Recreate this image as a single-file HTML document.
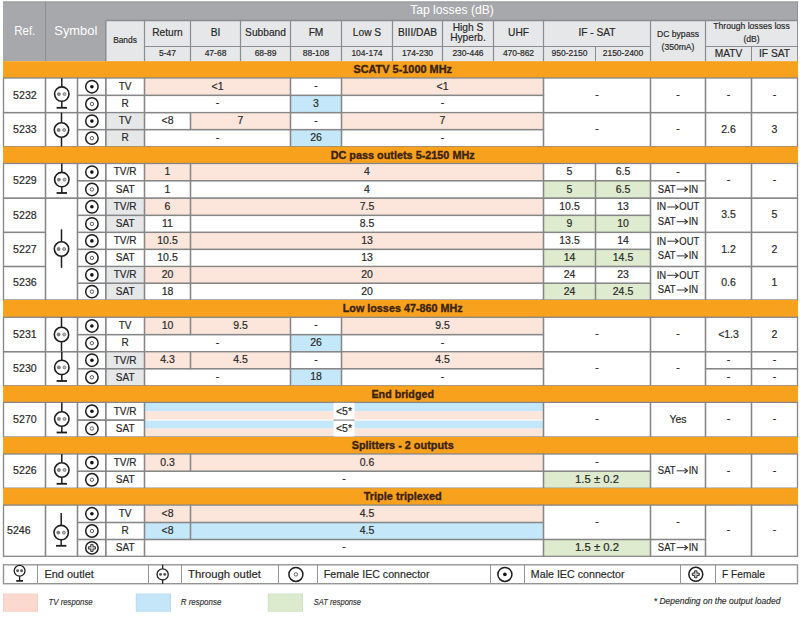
<!DOCTYPE html>
<html><head><meta charset="utf-8"><title>Tap losses</title>
<style>
html,body{margin:0;padding:0;background:#fff;width:800px;height:617px;overflow:hidden}
svg{display:block;font-family:"Liberation Sans", sans-serif}
</style></head><body>
<svg width="800" height="617" viewBox="0 0 800 617">
<rect x="0" y="0" width="800" height="617" fill="#fff"/>
<rect x="3.00" y="1.50" width="795.00" height="59.70" fill="#a6a8ab" />
<rect x="105.80" y="20.50" width="692.20" height="40.70" fill="#e6e7e8" />
<line x1="3.00" y1="2.00" x2="798.00" y2="2.00" stroke="#97999c" stroke-width="1.0"/>
<line x1="105.80" y1="20.50" x2="798.00" y2="20.50" stroke="#898b8e" stroke-width="1.6"/>
<line x1="45.50" y1="1.50" x2="45.50" y2="61.20" stroke="#8e9093" stroke-width="1.0"/>
<line x1="797.50" y1="1.50" x2="797.50" y2="61.20" stroke="#8e9093" stroke-width="1.0"/>
<line x1="105.80" y1="20.50" x2="105.80" y2="61.20" stroke="#8a8c8f" stroke-width="1.5"/>
<line x1="144.50" y1="20.50" x2="144.50" y2="61.20" stroke="#8a8c8f" stroke-width="1.2"/>
<line x1="190.50" y1="20.50" x2="190.50" y2="61.20" stroke="#8a8c8f" stroke-width="1.2"/>
<line x1="240.50" y1="20.50" x2="240.50" y2="61.20" stroke="#8a8c8f" stroke-width="1.2"/>
<line x1="290.50" y1="20.50" x2="290.50" y2="61.20" stroke="#8a8c8f" stroke-width="1.2"/>
<line x1="341.50" y1="20.50" x2="341.50" y2="61.20" stroke="#8a8c8f" stroke-width="1.2"/>
<line x1="392.50" y1="20.50" x2="392.50" y2="61.20" stroke="#8a8c8f" stroke-width="1.2"/>
<line x1="442.50" y1="20.50" x2="442.50" y2="61.20" stroke="#8a8c8f" stroke-width="1.2"/>
<line x1="493.50" y1="20.50" x2="493.50" y2="61.20" stroke="#8a8c8f" stroke-width="1.2"/>
<line x1="543.50" y1="20.50" x2="543.50" y2="61.20" stroke="#8a8c8f" stroke-width="1.2"/>
<line x1="650.50" y1="20.50" x2="650.50" y2="61.20" stroke="#8a8c8f" stroke-width="1.2"/>
<line x1="705.50" y1="20.50" x2="705.50" y2="61.20" stroke="#8a8c8f" stroke-width="1.2"/>
<line x1="595.50" y1="46.50" x2="595.50" y2="61.20" stroke="#8a8c8f" stroke-width="1.0"/>
<line x1="751.50" y1="46.50" x2="751.50" y2="61.20" stroke="#8a8c8f" stroke-width="1.0"/>
<line x1="144.50" y1="46.50" x2="650.50" y2="46.50" stroke="#8a8c8f" stroke-width="1.0"/>
<line x1="705.50" y1="46.50" x2="797.50" y2="46.50" stroke="#8a8c8f" stroke-width="1.0"/>
<text x="24.80" y="35.00" font-size="13.0" text-anchor="middle" fill="#ffffff" font-weight="normal" font-style="normal" textLength="21" lengthAdjust="spacingAndGlyphs" >Ref.</text>
<text x="75.80" y="35.00" font-size="13.0" text-anchor="middle" fill="#ffffff" font-weight="normal" font-style="normal" textLength="43" lengthAdjust="spacingAndGlyphs" >Symbol</text>
<text x="452.00" y="13.80" font-size="12.15" text-anchor="middle" fill="#ffffff" font-weight="normal" font-style="normal" >Tap losses (dB)</text>
<text x="125.00" y="43.40" font-size="8.4" text-anchor="middle" fill="#282828" font-weight="normal" font-style="normal" stroke="#282828" stroke-width="0.18">Bands</text>
<text x="167.50" y="36.20" font-size="10.2" text-anchor="middle" fill="#282828" font-weight="normal" font-style="normal" stroke="#282828" stroke-width="0.18">Return</text>
<text x="167.50" y="56.00" font-size="8.5" text-anchor="middle" fill="#282828" font-weight="normal" font-style="normal" stroke="#282828" stroke-width="0.18">5-47</text>
<text x="215.50" y="36.20" font-size="10.2" text-anchor="middle" fill="#282828" font-weight="normal" font-style="normal" stroke="#282828" stroke-width="0.18">BI</text>
<text x="215.50" y="56.00" font-size="8.5" text-anchor="middle" fill="#282828" font-weight="normal" font-style="normal" stroke="#282828" stroke-width="0.18">47-68</text>
<text x="265.50" y="36.20" font-size="10.2" text-anchor="middle" fill="#282828" font-weight="normal" font-style="normal" stroke="#282828" stroke-width="0.18">Subband</text>
<text x="265.50" y="56.00" font-size="8.5" text-anchor="middle" fill="#282828" font-weight="normal" font-style="normal" stroke="#282828" stroke-width="0.18">68-89</text>
<text x="316.00" y="36.20" font-size="10.2" text-anchor="middle" fill="#282828" font-weight="normal" font-style="normal" stroke="#282828" stroke-width="0.18">FM</text>
<text x="316.00" y="56.00" font-size="8.5" text-anchor="middle" fill="#282828" font-weight="normal" font-style="normal" stroke="#282828" stroke-width="0.18">88-108</text>
<text x="367.00" y="36.20" font-size="10.2" text-anchor="middle" fill="#282828" font-weight="normal" font-style="normal" stroke="#282828" stroke-width="0.18">Low S</text>
<text x="367.00" y="56.00" font-size="8.5" text-anchor="middle" fill="#282828" font-weight="normal" font-style="normal" stroke="#282828" stroke-width="0.18">104-174</text>
<text x="417.50" y="36.20" font-size="10.2" text-anchor="middle" fill="#282828" font-weight="normal" font-style="normal" stroke="#282828" stroke-width="0.18">BIII/DAB</text>
<text x="417.50" y="56.00" font-size="8.5" text-anchor="middle" fill="#282828" font-weight="normal" font-style="normal" stroke="#282828" stroke-width="0.18">174-230</text>
<text x="468.00" y="56.00" font-size="8.5" text-anchor="middle" fill="#282828" font-weight="normal" font-style="normal" stroke="#282828" stroke-width="0.18">230-446</text>
<text x="518.50" y="36.20" font-size="10.2" text-anchor="middle" fill="#282828" font-weight="normal" font-style="normal" stroke="#282828" stroke-width="0.18">UHF</text>
<text x="518.50" y="56.00" font-size="8.5" text-anchor="middle" fill="#282828" font-weight="normal" font-style="normal" stroke="#282828" stroke-width="0.18">470-862</text>
<text x="468.00" y="30.50" font-size="10.2" text-anchor="middle" fill="#282828" font-weight="normal" font-style="normal" stroke="#282828" stroke-width="0.18">High S</text>
<text x="468.00" y="41.20" font-size="10.2" text-anchor="middle" fill="#282828" font-weight="normal" font-style="normal" stroke="#282828" stroke-width="0.18">Hyperb.</text>
<text x="597.00" y="36.20" font-size="10.2" text-anchor="middle" fill="#282828" font-weight="normal" font-style="normal" stroke="#282828" stroke-width="0.18">IF - SAT</text>
<text x="569.50" y="56.00" font-size="8.5" text-anchor="middle" fill="#282828" font-weight="normal" font-style="normal" stroke="#282828" stroke-width="0.18">950-2150</text>
<text x="623.00" y="56.00" font-size="8.5" text-anchor="middle" fill="#282828" font-weight="normal" font-style="normal" stroke="#282828" stroke-width="0.18">2150-2400</text>
<text x="678.00" y="36.60" font-size="8.6" text-anchor="middle" fill="#282828" font-weight="normal" font-style="normal" stroke="#282828" stroke-width="0.18">DC bypass</text>
<text x="678.00" y="49.60" font-size="8.6" text-anchor="middle" fill="#282828" font-weight="normal" font-style="normal" stroke="#282828" stroke-width="0.18">(350mA)</text>
<text x="751.50" y="29.20" font-size="8.6" text-anchor="middle" fill="#282828" font-weight="normal" font-style="normal" stroke="#282828" stroke-width="0.18">Through losses loss</text>
<text x="751.50" y="41.50" font-size="8.6" text-anchor="middle" fill="#282828" font-weight="normal" font-style="normal" stroke="#282828" stroke-width="0.18">(dB)</text>
<text x="728.50" y="57.00" font-size="10.2" text-anchor="middle" fill="#282828" font-weight="normal" font-style="normal" stroke="#282828" stroke-width="0.18">MATV</text>
<text x="774.50" y="57.00" font-size="10.2" text-anchor="middle" fill="#282828" font-weight="normal" font-style="normal" stroke="#282828" stroke-width="0.18">IF SAT</text>
<rect x="3.00" y="61.20" width="795.00" height="16.80" fill="#f7a11d" />
<text x="402.70" y="73.40" font-size="10.85" text-anchor="middle" fill="#3d230a" font-weight="bold" font-style="normal" textLength="98.6" lengthAdjust="spacingAndGlyphs" stroke="#3d230a" stroke-width="0.35">SCATV 5-1000 MHz</text>
<rect x="145.00" y="78.50" width="145.00" height="16.40" fill="#fce5da" />
<text x="217.50" y="89.80" font-size="10.5" text-anchor="middle" fill="#282828" font-weight="normal" font-style="normal" stroke="#282828" stroke-width="0.18">&lt;1</text>
<text x="316.00" y="89.10" font-size="10.5" text-anchor="middle" fill="#282828" font-weight="normal" font-style="normal" stroke="#282828" stroke-width="0.18">-</text>
<rect x="342.00" y="78.50" width="201.00" height="16.40" fill="#fce5da" />
<text x="442.50" y="89.80" font-size="10.5" text-anchor="middle" fill="#282828" font-weight="normal" font-style="normal" stroke="#282828" stroke-width="0.18">&lt;1</text>
<text x="217.50" y="106.40" font-size="10.5" text-anchor="middle" fill="#282828" font-weight="normal" font-style="normal" stroke="#282828" stroke-width="0.18">-</text>
<rect x="291.00" y="95.90" width="50.00" height="16.20" fill="#c4e8fa" />
<text x="316.00" y="107.10" font-size="10.5" text-anchor="middle" fill="#282828" font-weight="normal" font-style="normal" stroke="#282828" stroke-width="0.18">3</text>
<text x="442.50" y="106.40" font-size="10.5" text-anchor="middle" fill="#282828" font-weight="normal" font-style="normal" stroke="#282828" stroke-width="0.18">-</text>
<text x="597.00" y="97.70" font-size="10.5" text-anchor="middle" fill="#282828" font-weight="normal" font-style="normal" stroke="#282828" stroke-width="0.18">-</text>
<text x="678.00" y="97.70" font-size="10.5" text-anchor="middle" fill="#282828" font-weight="normal" font-style="normal" stroke="#282828" stroke-width="0.18">-</text>
<text x="728.50" y="97.70" font-size="10.5" text-anchor="middle" fill="#282828" font-weight="normal" font-style="normal" stroke="#282828" stroke-width="0.18">-</text>
<text x="774.50" y="97.70" font-size="10.5" text-anchor="middle" fill="#282828" font-weight="normal" font-style="normal" stroke="#282828" stroke-width="0.18">-</text>
<text x="125.15" y="90.00" font-size="10.0" text-anchor="middle" fill="#282828" font-weight="normal" font-style="normal" stroke="#282828" stroke-width="0.18">TV</text>
<text x="125.15" y="107.30" font-size="10.0" text-anchor="middle" fill="#282828" font-weight="normal" font-style="normal" stroke="#282828" stroke-width="0.18">R</text>
<text x="24.90" y="98.50" font-size="10.6" text-anchor="middle" fill="#282828" font-weight="normal" font-style="normal" stroke="#282828" stroke-width="0.18">5232</text>
<rect x="3.50" y="78.00" width="42.00" height="34.60" fill="none" stroke="#878787" stroke-width="1.3"/>
<rect x="77.50" y="78.00" width="28.30" height="17.40" fill="none" stroke="#878787" stroke-width="1.3"/>
<rect x="77.50" y="95.40" width="28.30" height="17.20" fill="none" stroke="#878787" stroke-width="1.3"/>
<rect x="105.80" y="78.00" width="38.70" height="17.40" fill="none" stroke="#878787" stroke-width="1.3"/>
<rect x="105.80" y="95.40" width="38.70" height="17.20" fill="none" stroke="#878787" stroke-width="1.3"/>
<rect x="144.50" y="78.00" width="146.00" height="17.40" fill="none" stroke="#878787" stroke-width="1.3"/>
<rect x="290.50" y="78.00" width="51.00" height="17.40" fill="none" stroke="#878787" stroke-width="1.3"/>
<rect x="341.50" y="78.00" width="202.00" height="17.40" fill="none" stroke="#878787" stroke-width="1.3"/>
<rect x="144.50" y="95.40" width="146.00" height="17.20" fill="none" stroke="#878787" stroke-width="1.3"/>
<rect x="290.50" y="95.40" width="51.00" height="17.20" fill="none" stroke="#878787" stroke-width="1.3"/>
<rect x="341.50" y="95.40" width="202.00" height="17.20" fill="none" stroke="#878787" stroke-width="1.3"/>
<rect x="543.50" y="78.00" width="107.00" height="34.60" fill="none" stroke="#878787" stroke-width="1.3"/>
<rect x="650.50" y="78.00" width="55.00" height="34.60" fill="none" stroke="#878787" stroke-width="1.3"/>
<rect x="705.50" y="78.00" width="46.00" height="34.60" fill="none" stroke="#878787" stroke-width="1.3"/>
<rect x="751.50" y="78.00" width="46.00" height="34.60" fill="none" stroke="#878787" stroke-width="1.3"/>
<rect x="45.50" y="78.00" width="32.00" height="34.60" fill="none" stroke="#878787" stroke-width="1.3"/>
<circle cx="91.9" cy="86.70" r="6.2" fill="none" stroke="#1e1e1e" stroke-width="1.5"/>
<circle cx="91.9" cy="86.70" r="1.8" fill="#111"/>
<circle cx="91.9" cy="104.00" r="6.2" fill="none" stroke="#1e1e1e" stroke-width="1.5"/>
<circle cx="91.9" cy="104.00" r="1.7" fill="none" stroke="#5f5f5f" stroke-width="1.0"/>
<line x1="61.8" y1="78.0" x2="61.8" y2="86.90" stroke="#1e1e1e" stroke-width="1.5"/>
<circle cx="61.8" cy="94.1" r="7.2" fill="#fff" stroke="#1e1e1e" stroke-width="1.6"/>
<line x1="61.8" y1="101.30" x2="61.8" y2="107.8" stroke="#1e1e1e" stroke-width="1.5"/>
<line x1="56.60" y1="107.8" x2="67.00" y2="107.8" stroke="#1e1e1e" stroke-width="1.8"/>
<circle cx="58.90" cy="94.10" r="1.9" fill="#7d7d7d"/>
<circle cx="64.50" cy="94.10" r="1.5" fill="#b8b8b8" stroke="#7d7d7d" stroke-width="0.9"/>
<rect x="106.50" y="113.10" width="37.50" height="16.00" fill="#e6e7e8" />
<rect x="106.50" y="130.10" width="37.50" height="16.10" fill="#e6e7e8" />
<text x="167.50" y="124.20" font-size="10.5" text-anchor="middle" fill="#282828" font-weight="normal" font-style="normal" stroke="#282828" stroke-width="0.18">&lt;8</text>
<rect x="191.00" y="113.10" width="99.00" height="16.00" fill="#fce5da" />
<text x="240.50" y="124.20" font-size="10.5" text-anchor="middle" fill="#282828" font-weight="normal" font-style="normal" stroke="#282828" stroke-width="0.18">7</text>
<text x="316.00" y="123.50" font-size="10.5" text-anchor="middle" fill="#282828" font-weight="normal" font-style="normal" stroke="#282828" stroke-width="0.18">-</text>
<rect x="342.00" y="113.10" width="201.00" height="16.00" fill="#fce5da" />
<text x="442.50" y="124.20" font-size="10.5" text-anchor="middle" fill="#282828" font-weight="normal" font-style="normal" stroke="#282828" stroke-width="0.18">7</text>
<text x="217.50" y="140.55" font-size="10.5" text-anchor="middle" fill="#282828" font-weight="normal" font-style="normal" stroke="#282828" stroke-width="0.18">-</text>
<rect x="291.00" y="130.10" width="50.00" height="16.10" fill="#c4e8fa" />
<text x="316.00" y="141.25" font-size="10.5" text-anchor="middle" fill="#282828" font-weight="normal" font-style="normal" stroke="#282828" stroke-width="0.18">26</text>
<text x="442.50" y="140.55" font-size="10.5" text-anchor="middle" fill="#282828" font-weight="normal" font-style="normal" stroke="#282828" stroke-width="0.18">-</text>
<text x="597.00" y="132.05" font-size="10.5" text-anchor="middle" fill="#282828" font-weight="normal" font-style="normal" stroke="#282828" stroke-width="0.18">-</text>
<text x="678.00" y="132.05" font-size="10.5" text-anchor="middle" fill="#282828" font-weight="normal" font-style="normal" stroke="#282828" stroke-width="0.18">-</text>
<text x="728.50" y="132.75" font-size="10.5" text-anchor="middle" fill="#282828" font-weight="normal" font-style="normal" stroke="#282828" stroke-width="0.18">2.6</text>
<text x="774.50" y="132.75" font-size="10.5" text-anchor="middle" fill="#282828" font-weight="normal" font-style="normal" stroke="#282828" stroke-width="0.18">3</text>
<text x="125.15" y="124.40" font-size="10.0" text-anchor="middle" fill="#282828" font-weight="normal" font-style="normal" stroke="#282828" stroke-width="0.18">TV</text>
<text x="125.15" y="141.45" font-size="10.0" text-anchor="middle" fill="#282828" font-weight="normal" font-style="normal" stroke="#282828" stroke-width="0.18">R</text>
<text x="24.90" y="132.85" font-size="10.6" text-anchor="middle" fill="#282828" font-weight="normal" font-style="normal" stroke="#282828" stroke-width="0.18">5233</text>
<rect x="3.50" y="112.60" width="42.00" height="34.10" fill="none" stroke="#878787" stroke-width="1.3"/>
<rect x="77.50" y="112.60" width="28.30" height="17.00" fill="none" stroke="#878787" stroke-width="1.3"/>
<rect x="77.50" y="129.60" width="28.30" height="17.10" fill="none" stroke="#878787" stroke-width="1.3"/>
<rect x="105.80" y="112.60" width="38.70" height="17.00" fill="none" stroke="#878787" stroke-width="1.3"/>
<rect x="105.80" y="129.60" width="38.70" height="17.10" fill="none" stroke="#878787" stroke-width="1.3"/>
<rect x="144.50" y="112.60" width="46.00" height="17.00" fill="none" stroke="#878787" stroke-width="1.3"/>
<rect x="190.50" y="112.60" width="100.00" height="17.00" fill="none" stroke="#878787" stroke-width="1.3"/>
<rect x="290.50" y="112.60" width="51.00" height="17.00" fill="none" stroke="#878787" stroke-width="1.3"/>
<rect x="341.50" y="112.60" width="202.00" height="17.00" fill="none" stroke="#878787" stroke-width="1.3"/>
<rect x="144.50" y="129.60" width="146.00" height="17.10" fill="none" stroke="#878787" stroke-width="1.3"/>
<rect x="290.50" y="129.60" width="51.00" height="17.10" fill="none" stroke="#878787" stroke-width="1.3"/>
<rect x="341.50" y="129.60" width="202.00" height="17.10" fill="none" stroke="#878787" stroke-width="1.3"/>
<rect x="543.50" y="112.60" width="107.00" height="34.10" fill="none" stroke="#878787" stroke-width="1.3"/>
<rect x="650.50" y="112.60" width="55.00" height="34.10" fill="none" stroke="#878787" stroke-width="1.3"/>
<rect x="705.50" y="112.60" width="46.00" height="34.10" fill="none" stroke="#878787" stroke-width="1.3"/>
<rect x="751.50" y="112.60" width="46.00" height="34.10" fill="none" stroke="#878787" stroke-width="1.3"/>
<rect x="45.50" y="112.60" width="32.00" height="34.10" fill="none" stroke="#878787" stroke-width="1.3"/>
<circle cx="91.9" cy="121.10" r="6.2" fill="none" stroke="#1e1e1e" stroke-width="1.5"/>
<circle cx="91.9" cy="121.10" r="1.8" fill="#111"/>
<circle cx="91.9" cy="138.15" r="6.2" fill="none" stroke="#1e1e1e" stroke-width="1.5"/>
<circle cx="91.9" cy="138.15" r="1.7" fill="none" stroke="#5f5f5f" stroke-width="1.0"/>
<line x1="61.5" y1="112.6" x2="61.5" y2="146.7" stroke="#1e1e1e" stroke-width="1.5"/>
<circle cx="61.5" cy="130.0" r="7.2" fill="#fff" stroke="#1e1e1e" stroke-width="1.6"/>
<circle cx="58.60" cy="130.00" r="1.9" fill="#7d7d7d"/>
<circle cx="64.20" cy="130.00" r="1.5" fill="#b8b8b8" stroke="#7d7d7d" stroke-width="0.9"/>
<rect x="3.00" y="146.70" width="795.00" height="16.80" fill="#f7a11d" />
<text x="402.70" y="158.90" font-size="10.85" text-anchor="middle" fill="#3d230a" font-weight="bold" font-style="normal" textLength="144" lengthAdjust="spacingAndGlyphs" stroke="#3d230a" stroke-width="0.35">DC pass outlets 5-2150 MHz</text>
<rect x="145.00" y="164.00" width="45.00" height="16.20" fill="#fce5da" />
<text x="167.50" y="175.20" font-size="10.5" text-anchor="middle" fill="#282828" font-weight="normal" font-style="normal" stroke="#282828" stroke-width="0.18">1</text>
<rect x="191.00" y="164.00" width="352.00" height="16.20" fill="#fce5da" />
<text x="367.00" y="175.20" font-size="10.5" text-anchor="middle" fill="#282828" font-weight="normal" font-style="normal" stroke="#282828" stroke-width="0.18">4</text>
<text x="569.50" y="175.20" font-size="10.5" text-anchor="middle" fill="#282828" font-weight="normal" font-style="normal" stroke="#282828" stroke-width="0.18">5</text>
<text x="623.00" y="175.20" font-size="10.5" text-anchor="middle" fill="#282828" font-weight="normal" font-style="normal" stroke="#282828" stroke-width="0.18">6.5</text>
<text x="678.00" y="174.50" font-size="10.5" text-anchor="middle" fill="#282828" font-weight="normal" font-style="normal" stroke="#282828" stroke-width="0.18">-</text>
<text x="167.50" y="192.55" font-size="10.5" text-anchor="middle" fill="#282828" font-weight="normal" font-style="normal" stroke="#282828" stroke-width="0.18">1</text>
<text x="367.00" y="192.55" font-size="10.5" text-anchor="middle" fill="#282828" font-weight="normal" font-style="normal" stroke="#282828" stroke-width="0.18">4</text>
<rect x="544.00" y="181.20" width="51.00" height="16.50" fill="#deebcf" />
<text x="569.50" y="192.55" font-size="10.5" text-anchor="middle" fill="#282828" font-weight="normal" font-style="normal" stroke="#282828" stroke-width="0.18">5</text>
<rect x="596.00" y="181.20" width="54.00" height="16.50" fill="#deebcf" />
<text x="623.00" y="192.55" font-size="10.5" text-anchor="middle" fill="#282828" font-weight="normal" font-style="normal" stroke="#282828" stroke-width="0.18">6.5</text>
<text x="657.84" y="192.55" font-size="10.5" text-anchor="start" fill="#282828" font-weight="normal" font-style="normal" textLength="17.68" lengthAdjust="spacingAndGlyphs" stroke="#282828" stroke-width="0.18">SAT</text>
<path d="M676.71 189.15H686.51" fill="none" stroke="#2a2a2a" stroke-width="0.95"/>
<path d="M684.51 186.75L687.51 189.15L684.51 191.55" fill="none" stroke="#2a2a2a" stroke-width="1.1" stroke-linejoin="miter"/>
<text x="688.71" y="192.55" font-size="10.5" text-anchor="start" fill="#282828" font-weight="normal" font-style="normal" textLength="9.45" lengthAdjust="spacingAndGlyphs" stroke="#282828" stroke-width="0.18">IN</text>
<text x="728.50" y="183.25" font-size="10.5" text-anchor="middle" fill="#282828" font-weight="normal" font-style="normal" stroke="#282828" stroke-width="0.18">-</text>
<text x="774.50" y="183.25" font-size="10.5" text-anchor="middle" fill="#282828" font-weight="normal" font-style="normal" stroke="#282828" stroke-width="0.18">-</text>
<text x="125.15" y="175.40" font-size="10.0" text-anchor="middle" fill="#282828" font-weight="normal" font-style="normal" stroke="#282828" stroke-width="0.18">TV/R</text>
<text x="125.15" y="192.75" font-size="10.0" text-anchor="middle" fill="#282828" font-weight="normal" font-style="normal" stroke="#282828" stroke-width="0.18">SAT</text>
<text x="24.90" y="184.05" font-size="10.6" text-anchor="middle" fill="#282828" font-weight="normal" font-style="normal" stroke="#282828" stroke-width="0.18">5229</text>
<rect x="3.50" y="163.50" width="42.00" height="34.70" fill="none" stroke="#878787" stroke-width="1.3"/>
<rect x="77.50" y="163.50" width="28.30" height="17.20" fill="none" stroke="#878787" stroke-width="1.3"/>
<rect x="77.50" y="180.70" width="28.30" height="17.50" fill="none" stroke="#878787" stroke-width="1.3"/>
<rect x="105.80" y="163.50" width="38.70" height="17.20" fill="none" stroke="#878787" stroke-width="1.3"/>
<rect x="105.80" y="180.70" width="38.70" height="17.50" fill="none" stroke="#878787" stroke-width="1.3"/>
<rect x="144.50" y="163.50" width="46.00" height="17.20" fill="none" stroke="#878787" stroke-width="1.3"/>
<rect x="190.50" y="163.50" width="353.00" height="17.20" fill="none" stroke="#878787" stroke-width="1.3"/>
<rect x="543.50" y="163.50" width="52.00" height="17.20" fill="none" stroke="#878787" stroke-width="1.3"/>
<rect x="595.50" y="163.50" width="55.00" height="17.20" fill="none" stroke="#878787" stroke-width="1.3"/>
<rect x="650.50" y="163.50" width="55.00" height="17.20" fill="none" stroke="#878787" stroke-width="1.3"/>
<rect x="144.50" y="180.70" width="46.00" height="17.50" fill="none" stroke="#878787" stroke-width="1.3"/>
<rect x="190.50" y="180.70" width="353.00" height="17.50" fill="none" stroke="#878787" stroke-width="1.3"/>
<rect x="543.50" y="180.70" width="52.00" height="17.50" fill="none" stroke="#878787" stroke-width="1.3"/>
<rect x="595.50" y="180.70" width="55.00" height="17.50" fill="none" stroke="#878787" stroke-width="1.3"/>
<rect x="650.50" y="180.70" width="55.00" height="17.50" fill="none" stroke="#878787" stroke-width="1.3"/>
<rect x="705.50" y="163.50" width="46.00" height="34.70" fill="none" stroke="#878787" stroke-width="1.3"/>
<rect x="751.50" y="163.50" width="46.00" height="34.70" fill="none" stroke="#878787" stroke-width="1.3"/>
<rect x="45.50" y="163.50" width="32.00" height="34.70" fill="none" stroke="#878787" stroke-width="1.3"/>
<circle cx="91.9" cy="172.10" r="6.2" fill="none" stroke="#1e1e1e" stroke-width="1.5"/>
<circle cx="91.9" cy="172.10" r="1.8" fill="#111"/>
<circle cx="91.9" cy="189.45" r="6.2" fill="none" stroke="#1e1e1e" stroke-width="1.5"/>
<circle cx="91.9" cy="189.45" r="1.7" fill="none" stroke="#5f5f5f" stroke-width="1.0"/>
<line x1="61.8" y1="163.5" x2="61.8" y2="172.40" stroke="#1e1e1e" stroke-width="1.5"/>
<circle cx="61.8" cy="179.6" r="7.2" fill="#fff" stroke="#1e1e1e" stroke-width="1.6"/>
<line x1="61.8" y1="186.80" x2="61.8" y2="193.0" stroke="#1e1e1e" stroke-width="1.5"/>
<line x1="56.60" y1="193.0" x2="67.00" y2="193.0" stroke="#1e1e1e" stroke-width="1.8"/>
<circle cx="58.90" cy="179.60" r="1.9" fill="#7d7d7d"/>
<circle cx="64.50" cy="179.60" r="1.5" fill="#b8b8b8" stroke="#7d7d7d" stroke-width="0.9"/>
<rect x="106.50" y="198.70" width="37.50" height="16.20" fill="#e6e7e8" />
<rect x="106.50" y="215.90" width="37.50" height="16.00" fill="#e6e7e8" />
<rect x="145.00" y="198.70" width="45.00" height="16.20" fill="#fce5da" />
<text x="167.50" y="209.90" font-size="10.5" text-anchor="middle" fill="#282828" font-weight="normal" font-style="normal" stroke="#282828" stroke-width="0.18">6</text>
<rect x="191.00" y="198.70" width="352.00" height="16.20" fill="#fce5da" />
<text x="367.00" y="209.90" font-size="10.5" text-anchor="middle" fill="#282828" font-weight="normal" font-style="normal" stroke="#282828" stroke-width="0.18">7.5</text>
<text x="569.50" y="209.90" font-size="10.5" text-anchor="middle" fill="#282828" font-weight="normal" font-style="normal" stroke="#282828" stroke-width="0.18">10.5</text>
<text x="623.00" y="209.90" font-size="10.5" text-anchor="middle" fill="#282828" font-weight="normal" font-style="normal" stroke="#282828" stroke-width="0.18">13</text>
<text x="167.50" y="227.00" font-size="10.5" text-anchor="middle" fill="#282828" font-weight="normal" font-style="normal" stroke="#282828" stroke-width="0.18">11</text>
<text x="367.00" y="227.00" font-size="10.5" text-anchor="middle" fill="#282828" font-weight="normal" font-style="normal" stroke="#282828" stroke-width="0.18">8.5</text>
<rect x="544.00" y="215.90" width="51.00" height="16.00" fill="#deebcf" />
<text x="569.50" y="227.00" font-size="10.5" text-anchor="middle" fill="#282828" font-weight="normal" font-style="normal" stroke="#282828" stroke-width="0.18">9</text>
<rect x="596.00" y="215.90" width="54.00" height="16.00" fill="#deebcf" />
<text x="623.00" y="227.00" font-size="10.5" text-anchor="middle" fill="#282828" font-weight="normal" font-style="normal" stroke="#282828" stroke-width="0.18">10</text>
<text x="656.70" y="210.40" font-size="10.5" text-anchor="start" fill="#282828" font-weight="normal" font-style="normal" textLength="9.45" lengthAdjust="spacingAndGlyphs" stroke="#282828" stroke-width="0.18">IN</text>
<path d="M667.35 207.00H677.15" fill="none" stroke="#2a2a2a" stroke-width="0.95"/>
<path d="M675.15 204.60L678.15 207.00L675.15 209.40" fill="none" stroke="#2a2a2a" stroke-width="1.1" stroke-linejoin="miter"/>
<text x="679.35" y="210.40" font-size="10.5" text-anchor="start" fill="#282828" font-weight="normal" font-style="normal" textLength="19.95" lengthAdjust="spacingAndGlyphs" stroke="#282828" stroke-width="0.18">OUT</text>
<text x="657.84" y="225.10" font-size="10.5" text-anchor="start" fill="#282828" font-weight="normal" font-style="normal" textLength="17.68" lengthAdjust="spacingAndGlyphs" stroke="#282828" stroke-width="0.18">SAT</text>
<path d="M676.71 221.70H686.51" fill="none" stroke="#2a2a2a" stroke-width="0.95"/>
<path d="M684.51 219.30L687.51 221.70L684.51 224.10" fill="none" stroke="#2a2a2a" stroke-width="1.1" stroke-linejoin="miter"/>
<text x="688.71" y="225.10" font-size="10.5" text-anchor="start" fill="#282828" font-weight="normal" font-style="normal" textLength="9.45" lengthAdjust="spacingAndGlyphs" stroke="#282828" stroke-width="0.18">IN</text>
<text x="728.50" y="218.40" font-size="10.5" text-anchor="middle" fill="#282828" font-weight="normal" font-style="normal" stroke="#282828" stroke-width="0.18">3.5</text>
<text x="774.50" y="218.40" font-size="10.5" text-anchor="middle" fill="#282828" font-weight="normal" font-style="normal" stroke="#282828" stroke-width="0.18">5</text>
<text x="125.15" y="210.10" font-size="10.0" text-anchor="middle" fill="#282828" font-weight="normal" font-style="normal" stroke="#282828" stroke-width="0.18">TV/R</text>
<text x="125.15" y="227.20" font-size="10.0" text-anchor="middle" fill="#282828" font-weight="normal" font-style="normal" stroke="#282828" stroke-width="0.18">SAT</text>
<text x="24.90" y="218.50" font-size="10.6" text-anchor="middle" fill="#282828" font-weight="normal" font-style="normal" stroke="#282828" stroke-width="0.18">5228</text>
<rect x="3.50" y="198.20" width="42.00" height="34.20" fill="none" stroke="#878787" stroke-width="1.3"/>
<rect x="77.50" y="198.20" width="28.30" height="17.20" fill="none" stroke="#878787" stroke-width="1.3"/>
<rect x="77.50" y="215.40" width="28.30" height="17.00" fill="none" stroke="#878787" stroke-width="1.3"/>
<rect x="105.80" y="198.20" width="38.70" height="17.20" fill="none" stroke="#878787" stroke-width="1.3"/>
<rect x="105.80" y="215.40" width="38.70" height="17.00" fill="none" stroke="#878787" stroke-width="1.3"/>
<rect x="144.50" y="198.20" width="46.00" height="17.20" fill="none" stroke="#878787" stroke-width="1.3"/>
<rect x="190.50" y="198.20" width="353.00" height="17.20" fill="none" stroke="#878787" stroke-width="1.3"/>
<rect x="543.50" y="198.20" width="52.00" height="17.20" fill="none" stroke="#878787" stroke-width="1.3"/>
<rect x="595.50" y="198.20" width="55.00" height="17.20" fill="none" stroke="#878787" stroke-width="1.3"/>
<rect x="144.50" y="215.40" width="46.00" height="17.00" fill="none" stroke="#878787" stroke-width="1.3"/>
<rect x="190.50" y="215.40" width="353.00" height="17.00" fill="none" stroke="#878787" stroke-width="1.3"/>
<rect x="543.50" y="215.40" width="52.00" height="17.00" fill="none" stroke="#878787" stroke-width="1.3"/>
<rect x="595.50" y="215.40" width="55.00" height="17.00" fill="none" stroke="#878787" stroke-width="1.3"/>
<rect x="650.50" y="198.20" width="55.00" height="34.20" fill="none" stroke="#878787" stroke-width="1.3"/>
<rect x="705.50" y="198.20" width="46.00" height="34.20" fill="none" stroke="#878787" stroke-width="1.3"/>
<rect x="751.50" y="198.20" width="46.00" height="34.20" fill="none" stroke="#878787" stroke-width="1.3"/>
<circle cx="91.9" cy="206.80" r="6.2" fill="none" stroke="#1e1e1e" stroke-width="1.5"/>
<circle cx="91.9" cy="206.80" r="1.8" fill="#111"/>
<circle cx="91.9" cy="223.90" r="6.2" fill="none" stroke="#1e1e1e" stroke-width="1.5"/>
<circle cx="91.9" cy="223.90" r="1.7" fill="none" stroke="#5f5f5f" stroke-width="1.0"/>
<rect x="145.00" y="232.90" width="45.00" height="16.00" fill="#fce5da" />
<text x="167.50" y="244.00" font-size="10.5" text-anchor="middle" fill="#282828" font-weight="normal" font-style="normal" stroke="#282828" stroke-width="0.18">10.5</text>
<rect x="191.00" y="232.90" width="352.00" height="16.00" fill="#fce5da" />
<text x="367.00" y="244.00" font-size="10.5" text-anchor="middle" fill="#282828" font-weight="normal" font-style="normal" stroke="#282828" stroke-width="0.18">13</text>
<text x="569.50" y="244.00" font-size="10.5" text-anchor="middle" fill="#282828" font-weight="normal" font-style="normal" stroke="#282828" stroke-width="0.18">13.5</text>
<text x="623.00" y="244.00" font-size="10.5" text-anchor="middle" fill="#282828" font-weight="normal" font-style="normal" stroke="#282828" stroke-width="0.18">14</text>
<text x="167.50" y="261.05" font-size="10.5" text-anchor="middle" fill="#282828" font-weight="normal" font-style="normal" stroke="#282828" stroke-width="0.18">10.5</text>
<text x="367.00" y="261.05" font-size="10.5" text-anchor="middle" fill="#282828" font-weight="normal" font-style="normal" stroke="#282828" stroke-width="0.18">13</text>
<rect x="544.00" y="249.90" width="51.00" height="16.10" fill="#deebcf" />
<text x="569.50" y="261.05" font-size="10.5" text-anchor="middle" fill="#282828" font-weight="normal" font-style="normal" stroke="#282828" stroke-width="0.18">14</text>
<rect x="596.00" y="249.90" width="54.00" height="16.10" fill="#deebcf" />
<text x="623.00" y="261.05" font-size="10.5" text-anchor="middle" fill="#282828" font-weight="normal" font-style="normal" stroke="#282828" stroke-width="0.18">14.5</text>
<text x="656.70" y="244.60" font-size="10.5" text-anchor="start" fill="#282828" font-weight="normal" font-style="normal" textLength="9.45" lengthAdjust="spacingAndGlyphs" stroke="#282828" stroke-width="0.18">IN</text>
<path d="M667.35 241.20H677.15" fill="none" stroke="#2a2a2a" stroke-width="0.95"/>
<path d="M675.15 238.80L678.15 241.20L675.15 243.60" fill="none" stroke="#2a2a2a" stroke-width="1.1" stroke-linejoin="miter"/>
<text x="679.35" y="244.60" font-size="10.5" text-anchor="start" fill="#282828" font-weight="normal" font-style="normal" textLength="19.95" lengthAdjust="spacingAndGlyphs" stroke="#282828" stroke-width="0.18">OUT</text>
<text x="657.84" y="259.30" font-size="10.5" text-anchor="start" fill="#282828" font-weight="normal" font-style="normal" textLength="17.68" lengthAdjust="spacingAndGlyphs" stroke="#282828" stroke-width="0.18">SAT</text>
<path d="M676.71 255.90H686.51" fill="none" stroke="#2a2a2a" stroke-width="0.95"/>
<path d="M684.51 253.50L687.51 255.90L684.51 258.30" fill="none" stroke="#2a2a2a" stroke-width="1.1" stroke-linejoin="miter"/>
<text x="688.71" y="259.30" font-size="10.5" text-anchor="start" fill="#282828" font-weight="normal" font-style="normal" textLength="9.45" lengthAdjust="spacingAndGlyphs" stroke="#282828" stroke-width="0.18">IN</text>
<text x="728.50" y="252.55" font-size="10.5" text-anchor="middle" fill="#282828" font-weight="normal" font-style="normal" stroke="#282828" stroke-width="0.18">1.2</text>
<text x="774.50" y="252.55" font-size="10.5" text-anchor="middle" fill="#282828" font-weight="normal" font-style="normal" stroke="#282828" stroke-width="0.18">2</text>
<text x="125.15" y="244.20" font-size="10.0" text-anchor="middle" fill="#282828" font-weight="normal" font-style="normal" stroke="#282828" stroke-width="0.18">TV/R</text>
<text x="125.15" y="261.25" font-size="10.0" text-anchor="middle" fill="#282828" font-weight="normal" font-style="normal" stroke="#282828" stroke-width="0.18">SAT</text>
<text x="24.90" y="252.65" font-size="10.6" text-anchor="middle" fill="#282828" font-weight="normal" font-style="normal" stroke="#282828" stroke-width="0.18">5227</text>
<rect x="3.50" y="232.40" width="42.00" height="34.10" fill="none" stroke="#878787" stroke-width="1.3"/>
<rect x="77.50" y="232.40" width="28.30" height="17.00" fill="none" stroke="#878787" stroke-width="1.3"/>
<rect x="77.50" y="249.40" width="28.30" height="17.10" fill="none" stroke="#878787" stroke-width="1.3"/>
<rect x="105.80" y="232.40" width="38.70" height="17.00" fill="none" stroke="#878787" stroke-width="1.3"/>
<rect x="105.80" y="249.40" width="38.70" height="17.10" fill="none" stroke="#878787" stroke-width="1.3"/>
<rect x="144.50" y="232.40" width="46.00" height="17.00" fill="none" stroke="#878787" stroke-width="1.3"/>
<rect x="190.50" y="232.40" width="353.00" height="17.00" fill="none" stroke="#878787" stroke-width="1.3"/>
<rect x="543.50" y="232.40" width="52.00" height="17.00" fill="none" stroke="#878787" stroke-width="1.3"/>
<rect x="595.50" y="232.40" width="55.00" height="17.00" fill="none" stroke="#878787" stroke-width="1.3"/>
<rect x="144.50" y="249.40" width="46.00" height="17.10" fill="none" stroke="#878787" stroke-width="1.3"/>
<rect x="190.50" y="249.40" width="353.00" height="17.10" fill="none" stroke="#878787" stroke-width="1.3"/>
<rect x="543.50" y="249.40" width="52.00" height="17.10" fill="none" stroke="#878787" stroke-width="1.3"/>
<rect x="595.50" y="249.40" width="55.00" height="17.10" fill="none" stroke="#878787" stroke-width="1.3"/>
<rect x="650.50" y="232.40" width="55.00" height="34.10" fill="none" stroke="#878787" stroke-width="1.3"/>
<rect x="705.50" y="232.40" width="46.00" height="34.10" fill="none" stroke="#878787" stroke-width="1.3"/>
<rect x="751.50" y="232.40" width="46.00" height="34.10" fill="none" stroke="#878787" stroke-width="1.3"/>
<circle cx="91.9" cy="240.90" r="6.2" fill="none" stroke="#1e1e1e" stroke-width="1.5"/>
<circle cx="91.9" cy="240.90" r="1.8" fill="#111"/>
<circle cx="91.9" cy="257.95" r="6.2" fill="none" stroke="#1e1e1e" stroke-width="1.5"/>
<circle cx="91.9" cy="257.95" r="1.7" fill="none" stroke="#5f5f5f" stroke-width="1.0"/>
<rect x="106.50" y="267.00" width="37.50" height="15.80" fill="#e6e7e8" />
<rect x="106.50" y="283.80" width="37.50" height="15.70" fill="#e6e7e8" />
<rect x="145.00" y="267.00" width="45.00" height="15.80" fill="#fce5da" />
<text x="167.50" y="278.00" font-size="10.5" text-anchor="middle" fill="#282828" font-weight="normal" font-style="normal" stroke="#282828" stroke-width="0.18">20</text>
<rect x="191.00" y="267.00" width="352.00" height="15.80" fill="#fce5da" />
<text x="367.00" y="278.00" font-size="10.5" text-anchor="middle" fill="#282828" font-weight="normal" font-style="normal" stroke="#282828" stroke-width="0.18">20</text>
<text x="569.50" y="278.00" font-size="10.5" text-anchor="middle" fill="#282828" font-weight="normal" font-style="normal" stroke="#282828" stroke-width="0.18">24</text>
<text x="623.00" y="278.00" font-size="10.5" text-anchor="middle" fill="#282828" font-weight="normal" font-style="normal" stroke="#282828" stroke-width="0.18">23</text>
<text x="167.50" y="294.75" font-size="10.5" text-anchor="middle" fill="#282828" font-weight="normal" font-style="normal" stroke="#282828" stroke-width="0.18">18</text>
<text x="367.00" y="294.75" font-size="10.5" text-anchor="middle" fill="#282828" font-weight="normal" font-style="normal" stroke="#282828" stroke-width="0.18">20</text>
<rect x="544.00" y="283.80" width="51.00" height="15.70" fill="#deebcf" />
<text x="569.50" y="294.75" font-size="10.5" text-anchor="middle" fill="#282828" font-weight="normal" font-style="normal" stroke="#282828" stroke-width="0.18">24</text>
<rect x="596.00" y="283.80" width="54.00" height="15.70" fill="#deebcf" />
<text x="623.00" y="294.75" font-size="10.5" text-anchor="middle" fill="#282828" font-weight="normal" font-style="normal" stroke="#282828" stroke-width="0.18">24.5</text>
<text x="656.70" y="278.70" font-size="10.5" text-anchor="start" fill="#282828" font-weight="normal" font-style="normal" textLength="9.45" lengthAdjust="spacingAndGlyphs" stroke="#282828" stroke-width="0.18">IN</text>
<path d="M667.35 275.30H677.15" fill="none" stroke="#2a2a2a" stroke-width="0.95"/>
<path d="M675.15 272.90L678.15 275.30L675.15 277.70" fill="none" stroke="#2a2a2a" stroke-width="1.1" stroke-linejoin="miter"/>
<text x="679.35" y="278.70" font-size="10.5" text-anchor="start" fill="#282828" font-weight="normal" font-style="normal" textLength="19.95" lengthAdjust="spacingAndGlyphs" stroke="#282828" stroke-width="0.18">OUT</text>
<text x="657.84" y="293.40" font-size="10.5" text-anchor="start" fill="#282828" font-weight="normal" font-style="normal" textLength="17.68" lengthAdjust="spacingAndGlyphs" stroke="#282828" stroke-width="0.18">SAT</text>
<path d="M676.71 290.00H686.51" fill="none" stroke="#2a2a2a" stroke-width="0.95"/>
<path d="M684.51 287.60L687.51 290.00L684.51 292.40" fill="none" stroke="#2a2a2a" stroke-width="1.1" stroke-linejoin="miter"/>
<text x="688.71" y="293.40" font-size="10.5" text-anchor="start" fill="#282828" font-weight="normal" font-style="normal" textLength="9.45" lengthAdjust="spacingAndGlyphs" stroke="#282828" stroke-width="0.18">IN</text>
<text x="728.50" y="286.35" font-size="10.5" text-anchor="middle" fill="#282828" font-weight="normal" font-style="normal" stroke="#282828" stroke-width="0.18">0.6</text>
<text x="774.50" y="286.35" font-size="10.5" text-anchor="middle" fill="#282828" font-weight="normal" font-style="normal" stroke="#282828" stroke-width="0.18">1</text>
<text x="125.15" y="278.20" font-size="10.0" text-anchor="middle" fill="#282828" font-weight="normal" font-style="normal" stroke="#282828" stroke-width="0.18">TV/R</text>
<text x="125.15" y="294.95" font-size="10.0" text-anchor="middle" fill="#282828" font-weight="normal" font-style="normal" stroke="#282828" stroke-width="0.18">SAT</text>
<text x="24.90" y="286.45" font-size="10.6" text-anchor="middle" fill="#282828" font-weight="normal" font-style="normal" stroke="#282828" stroke-width="0.18">5236</text>
<rect x="3.50" y="266.50" width="42.00" height="33.50" fill="none" stroke="#878787" stroke-width="1.3"/>
<rect x="77.50" y="266.50" width="28.30" height="16.80" fill="none" stroke="#878787" stroke-width="1.3"/>
<rect x="77.50" y="283.30" width="28.30" height="16.70" fill="none" stroke="#878787" stroke-width="1.3"/>
<rect x="105.80" y="266.50" width="38.70" height="16.80" fill="none" stroke="#878787" stroke-width="1.3"/>
<rect x="105.80" y="283.30" width="38.70" height="16.70" fill="none" stroke="#878787" stroke-width="1.3"/>
<rect x="144.50" y="266.50" width="46.00" height="16.80" fill="none" stroke="#878787" stroke-width="1.3"/>
<rect x="190.50" y="266.50" width="353.00" height="16.80" fill="none" stroke="#878787" stroke-width="1.3"/>
<rect x="543.50" y="266.50" width="52.00" height="16.80" fill="none" stroke="#878787" stroke-width="1.3"/>
<rect x="595.50" y="266.50" width="55.00" height="16.80" fill="none" stroke="#878787" stroke-width="1.3"/>
<rect x="144.50" y="283.30" width="46.00" height="16.70" fill="none" stroke="#878787" stroke-width="1.3"/>
<rect x="190.50" y="283.30" width="353.00" height="16.70" fill="none" stroke="#878787" stroke-width="1.3"/>
<rect x="543.50" y="283.30" width="52.00" height="16.70" fill="none" stroke="#878787" stroke-width="1.3"/>
<rect x="595.50" y="283.30" width="55.00" height="16.70" fill="none" stroke="#878787" stroke-width="1.3"/>
<rect x="650.50" y="266.50" width="55.00" height="33.50" fill="none" stroke="#878787" stroke-width="1.3"/>
<rect x="705.50" y="266.50" width="46.00" height="33.50" fill="none" stroke="#878787" stroke-width="1.3"/>
<rect x="751.50" y="266.50" width="46.00" height="33.50" fill="none" stroke="#878787" stroke-width="1.3"/>
<circle cx="91.9" cy="274.90" r="6.2" fill="none" stroke="#1e1e1e" stroke-width="1.5"/>
<circle cx="91.9" cy="274.90" r="1.8" fill="#111"/>
<circle cx="91.9" cy="291.65" r="6.2" fill="none" stroke="#1e1e1e" stroke-width="1.5"/>
<circle cx="91.9" cy="291.65" r="1.7" fill="none" stroke="#5f5f5f" stroke-width="1.0"/>
<rect x="45.50" y="198.20" width="32.00" height="101.80" fill="none" stroke="#878787" stroke-width="1.3"/>
<line x1="61.5" y1="229.3" x2="61.5" y2="267.8" stroke="#1e1e1e" stroke-width="1.5"/>
<circle cx="61.5" cy="249.0" r="7.2" fill="#fff" stroke="#1e1e1e" stroke-width="1.6"/>
<circle cx="58.60" cy="249.00" r="1.9" fill="#7d7d7d"/>
<circle cx="64.20" cy="249.00" r="1.5" fill="#b8b8b8" stroke="#7d7d7d" stroke-width="0.9"/>
<rect x="3.00" y="300.00" width="795.00" height="17.30" fill="#f7a11d" />
<text x="402.70" y="312.45" font-size="10.85" text-anchor="middle" fill="#3d230a" font-weight="bold" font-style="normal" textLength="120" lengthAdjust="spacingAndGlyphs" stroke="#3d230a" stroke-width="0.35">Low losses 47-860 MHz</text>
<rect x="145.00" y="317.80" width="45.00" height="16.30" fill="#fce5da" />
<text x="167.50" y="329.05" font-size="10.5" text-anchor="middle" fill="#282828" font-weight="normal" font-style="normal" stroke="#282828" stroke-width="0.18">10</text>
<rect x="191.00" y="317.80" width="99.00" height="16.30" fill="#fce5da" />
<text x="240.50" y="329.05" font-size="10.5" text-anchor="middle" fill="#282828" font-weight="normal" font-style="normal" stroke="#282828" stroke-width="0.18">9.5</text>
<text x="316.00" y="328.35" font-size="10.5" text-anchor="middle" fill="#282828" font-weight="normal" font-style="normal" stroke="#282828" stroke-width="0.18">-</text>
<rect x="342.00" y="317.80" width="201.00" height="16.30" fill="#fce5da" />
<text x="442.50" y="329.05" font-size="10.5" text-anchor="middle" fill="#282828" font-weight="normal" font-style="normal" stroke="#282828" stroke-width="0.18">9.5</text>
<text x="217.50" y="345.55" font-size="10.5" text-anchor="middle" fill="#282828" font-weight="normal" font-style="normal" stroke="#282828" stroke-width="0.18">-</text>
<rect x="291.00" y="335.10" width="50.00" height="16.10" fill="#c4e8fa" />
<text x="316.00" y="346.25" font-size="10.5" text-anchor="middle" fill="#282828" font-weight="normal" font-style="normal" stroke="#282828" stroke-width="0.18">26</text>
<text x="442.50" y="345.55" font-size="10.5" text-anchor="middle" fill="#282828" font-weight="normal" font-style="normal" stroke="#282828" stroke-width="0.18">-</text>
<text x="597.00" y="336.90" font-size="10.5" text-anchor="middle" fill="#282828" font-weight="normal" font-style="normal" stroke="#282828" stroke-width="0.18">-</text>
<text x="678.00" y="336.90" font-size="10.5" text-anchor="middle" fill="#282828" font-weight="normal" font-style="normal" stroke="#282828" stroke-width="0.18">-</text>
<text x="728.50" y="337.60" font-size="10.5" text-anchor="middle" fill="#282828" font-weight="normal" font-style="normal" stroke="#282828" stroke-width="0.18">&lt;1.3</text>
<text x="774.50" y="337.60" font-size="10.5" text-anchor="middle" fill="#282828" font-weight="normal" font-style="normal" stroke="#282828" stroke-width="0.18">2</text>
<text x="125.15" y="329.25" font-size="10.0" text-anchor="middle" fill="#282828" font-weight="normal" font-style="normal" stroke="#282828" stroke-width="0.18">TV</text>
<text x="125.15" y="346.45" font-size="10.0" text-anchor="middle" fill="#282828" font-weight="normal" font-style="normal" stroke="#282828" stroke-width="0.18">R</text>
<text x="24.90" y="337.70" font-size="10.6" text-anchor="middle" fill="#282828" font-weight="normal" font-style="normal" stroke="#282828" stroke-width="0.18">5231</text>
<rect x="3.50" y="317.30" width="42.00" height="34.40" fill="none" stroke="#878787" stroke-width="1.3"/>
<rect x="77.50" y="317.30" width="28.30" height="17.30" fill="none" stroke="#878787" stroke-width="1.3"/>
<rect x="77.50" y="334.60" width="28.30" height="17.10" fill="none" stroke="#878787" stroke-width="1.3"/>
<rect x="105.80" y="317.30" width="38.70" height="17.30" fill="none" stroke="#878787" stroke-width="1.3"/>
<rect x="105.80" y="334.60" width="38.70" height="17.10" fill="none" stroke="#878787" stroke-width="1.3"/>
<rect x="144.50" y="317.30" width="46.00" height="17.30" fill="none" stroke="#878787" stroke-width="1.3"/>
<rect x="190.50" y="317.30" width="100.00" height="17.30" fill="none" stroke="#878787" stroke-width="1.3"/>
<rect x="290.50" y="317.30" width="51.00" height="17.30" fill="none" stroke="#878787" stroke-width="1.3"/>
<rect x="341.50" y="317.30" width="202.00" height="17.30" fill="none" stroke="#878787" stroke-width="1.3"/>
<rect x="144.50" y="334.60" width="146.00" height="17.10" fill="none" stroke="#878787" stroke-width="1.3"/>
<rect x="290.50" y="334.60" width="51.00" height="17.10" fill="none" stroke="#878787" stroke-width="1.3"/>
<rect x="341.50" y="334.60" width="202.00" height="17.10" fill="none" stroke="#878787" stroke-width="1.3"/>
<rect x="543.50" y="317.30" width="107.00" height="34.40" fill="none" stroke="#878787" stroke-width="1.3"/>
<rect x="650.50" y="317.30" width="55.00" height="34.40" fill="none" stroke="#878787" stroke-width="1.3"/>
<rect x="705.50" y="317.30" width="46.00" height="34.40" fill="none" stroke="#878787" stroke-width="1.3"/>
<rect x="751.50" y="317.30" width="46.00" height="34.40" fill="none" stroke="#878787" stroke-width="1.3"/>
<rect x="45.50" y="317.30" width="32.00" height="34.40" fill="none" stroke="#878787" stroke-width="1.3"/>
<circle cx="91.9" cy="325.95" r="6.2" fill="none" stroke="#1e1e1e" stroke-width="1.5"/>
<circle cx="91.9" cy="325.95" r="1.8" fill="#111"/>
<circle cx="91.9" cy="343.15" r="6.2" fill="none" stroke="#1e1e1e" stroke-width="1.5"/>
<circle cx="91.9" cy="343.15" r="1.7" fill="none" stroke="#5f5f5f" stroke-width="1.0"/>
<line x1="61.5" y1="317.3" x2="61.5" y2="351.7" stroke="#1e1e1e" stroke-width="1.5"/>
<circle cx="61.5" cy="334.5" r="7.2" fill="#fff" stroke="#1e1e1e" stroke-width="1.6"/>
<circle cx="58.60" cy="334.50" r="1.9" fill="#7d7d7d"/>
<circle cx="64.20" cy="334.50" r="1.5" fill="#b8b8b8" stroke="#7d7d7d" stroke-width="0.9"/>
<rect x="106.50" y="352.20" width="37.50" height="16.00" fill="#e6e7e8" />
<rect x="106.50" y="369.20" width="37.50" height="16.10" fill="#e6e7e8" />
<rect x="145.00" y="352.20" width="45.00" height="16.00" fill="#fce5da" />
<text x="167.50" y="363.30" font-size="10.5" text-anchor="middle" fill="#282828" font-weight="normal" font-style="normal" stroke="#282828" stroke-width="0.18">4.3</text>
<rect x="191.00" y="352.20" width="99.00" height="16.00" fill="#fce5da" />
<text x="240.50" y="363.30" font-size="10.5" text-anchor="middle" fill="#282828" font-weight="normal" font-style="normal" stroke="#282828" stroke-width="0.18">4.5</text>
<text x="316.00" y="362.60" font-size="10.5" text-anchor="middle" fill="#282828" font-weight="normal" font-style="normal" stroke="#282828" stroke-width="0.18">-</text>
<rect x="342.00" y="352.20" width="201.00" height="16.00" fill="#fce5da" />
<text x="442.50" y="363.30" font-size="10.5" text-anchor="middle" fill="#282828" font-weight="normal" font-style="normal" stroke="#282828" stroke-width="0.18">4.5</text>
<text x="217.50" y="379.65" font-size="10.5" text-anchor="middle" fill="#282828" font-weight="normal" font-style="normal" stroke="#282828" stroke-width="0.18">-</text>
<rect x="291.00" y="369.20" width="50.00" height="16.10" fill="#c4e8fa" />
<text x="316.00" y="380.35" font-size="10.5" text-anchor="middle" fill="#282828" font-weight="normal" font-style="normal" stroke="#282828" stroke-width="0.18">18</text>
<text x="442.50" y="379.65" font-size="10.5" text-anchor="middle" fill="#282828" font-weight="normal" font-style="normal" stroke="#282828" stroke-width="0.18">-</text>
<text x="597.00" y="371.15" font-size="10.5" text-anchor="middle" fill="#282828" font-weight="normal" font-style="normal" stroke="#282828" stroke-width="0.18">-</text>
<text x="678.00" y="371.15" font-size="10.5" text-anchor="middle" fill="#282828" font-weight="normal" font-style="normal" stroke="#282828" stroke-width="0.18">-</text>
<text x="728.50" y="362.60" font-size="10.5" text-anchor="middle" fill="#282828" font-weight="normal" font-style="normal" stroke="#282828" stroke-width="0.18">-</text>
<text x="774.50" y="362.60" font-size="10.5" text-anchor="middle" fill="#282828" font-weight="normal" font-style="normal" stroke="#282828" stroke-width="0.18">-</text>
<text x="728.50" y="379.65" font-size="10.5" text-anchor="middle" fill="#282828" font-weight="normal" font-style="normal" stroke="#282828" stroke-width="0.18">-</text>
<text x="774.50" y="379.65" font-size="10.5" text-anchor="middle" fill="#282828" font-weight="normal" font-style="normal" stroke="#282828" stroke-width="0.18">-</text>
<text x="125.15" y="363.50" font-size="10.0" text-anchor="middle" fill="#282828" font-weight="normal" font-style="normal" stroke="#282828" stroke-width="0.18">TV/R</text>
<text x="125.15" y="380.55" font-size="10.0" text-anchor="middle" fill="#282828" font-weight="normal" font-style="normal" stroke="#282828" stroke-width="0.18">SAT</text>
<text x="24.90" y="371.95" font-size="10.6" text-anchor="middle" fill="#282828" font-weight="normal" font-style="normal" stroke="#282828" stroke-width="0.18">5230</text>
<rect x="3.50" y="351.70" width="42.00" height="34.10" fill="none" stroke="#878787" stroke-width="1.3"/>
<rect x="77.50" y="351.70" width="28.30" height="17.00" fill="none" stroke="#878787" stroke-width="1.3"/>
<rect x="77.50" y="368.70" width="28.30" height="17.10" fill="none" stroke="#878787" stroke-width="1.3"/>
<rect x="105.80" y="351.70" width="38.70" height="17.00" fill="none" stroke="#878787" stroke-width="1.3"/>
<rect x="105.80" y="368.70" width="38.70" height="17.10" fill="none" stroke="#878787" stroke-width="1.3"/>
<rect x="144.50" y="351.70" width="46.00" height="17.00" fill="none" stroke="#878787" stroke-width="1.3"/>
<rect x="190.50" y="351.70" width="100.00" height="17.00" fill="none" stroke="#878787" stroke-width="1.3"/>
<rect x="290.50" y="351.70" width="51.00" height="17.00" fill="none" stroke="#878787" stroke-width="1.3"/>
<rect x="341.50" y="351.70" width="202.00" height="17.00" fill="none" stroke="#878787" stroke-width="1.3"/>
<rect x="144.50" y="368.70" width="146.00" height="17.10" fill="none" stroke="#878787" stroke-width="1.3"/>
<rect x="290.50" y="368.70" width="51.00" height="17.10" fill="none" stroke="#878787" stroke-width="1.3"/>
<rect x="341.50" y="368.70" width="202.00" height="17.10" fill="none" stroke="#878787" stroke-width="1.3"/>
<rect x="543.50" y="351.70" width="107.00" height="34.10" fill="none" stroke="#878787" stroke-width="1.3"/>
<rect x="650.50" y="351.70" width="55.00" height="34.10" fill="none" stroke="#878787" stroke-width="1.3"/>
<rect x="705.50" y="351.70" width="46.00" height="17.00" fill="none" stroke="#878787" stroke-width="1.3"/>
<rect x="751.50" y="351.70" width="46.00" height="17.00" fill="none" stroke="#878787" stroke-width="1.3"/>
<rect x="705.50" y="368.70" width="46.00" height="17.10" fill="none" stroke="#878787" stroke-width="1.3"/>
<rect x="751.50" y="368.70" width="46.00" height="17.10" fill="none" stroke="#878787" stroke-width="1.3"/>
<rect x="45.50" y="351.70" width="32.00" height="34.10" fill="none" stroke="#878787" stroke-width="1.3"/>
<circle cx="91.9" cy="360.20" r="6.2" fill="none" stroke="#1e1e1e" stroke-width="1.5"/>
<circle cx="91.9" cy="360.20" r="1.8" fill="#111"/>
<circle cx="91.9" cy="377.25" r="6.2" fill="none" stroke="#1e1e1e" stroke-width="1.5"/>
<circle cx="91.9" cy="377.25" r="1.7" fill="none" stroke="#5f5f5f" stroke-width="1.0"/>
<line x1="61.8" y1="351.7" x2="61.8" y2="360.20" stroke="#1e1e1e" stroke-width="1.5"/>
<circle cx="61.8" cy="367.4" r="7.2" fill="#fff" stroke="#1e1e1e" stroke-width="1.6"/>
<line x1="61.8" y1="374.60" x2="61.8" y2="381.0" stroke="#1e1e1e" stroke-width="1.5"/>
<line x1="56.60" y1="381.0" x2="67.00" y2="381.0" stroke="#1e1e1e" stroke-width="1.8"/>
<circle cx="58.90" cy="367.40" r="1.9" fill="#7d7d7d"/>
<circle cx="64.50" cy="367.40" r="1.5" fill="#b8b8b8" stroke="#7d7d7d" stroke-width="0.9"/>
<rect x="3.00" y="385.80" width="795.00" height="16.60" fill="#f7a11d" />
<text x="402.70" y="397.90" font-size="10.85" text-anchor="middle" fill="#3d230a" font-weight="bold" font-style="normal" textLength="62.5" lengthAdjust="spacingAndGlyphs" stroke="#3d230a" stroke-width="0.35">End bridged</text>
<rect x="145.00" y="402.90" width="398.00" height="8.35" fill="#c4e8fa" />
<rect x="145.00" y="411.25" width="398.00" height="8.35" fill="#fce5da" />
<rect x="145.00" y="420.60" width="398.00" height="7.95" fill="#c4e8fa" />
<rect x="145.00" y="428.55" width="398.00" height="7.95" fill="#fce5da" />
<text x="597.00" y="422.10" font-size="10.5" text-anchor="middle" fill="#282828" font-weight="normal" font-style="normal" stroke="#282828" stroke-width="0.18">-</text>
<text x="678.00" y="422.80" font-size="10.5" text-anchor="middle" fill="#282828" font-weight="normal" font-style="normal" stroke="#282828" stroke-width="0.18">Yes</text>
<text x="728.50" y="422.10" font-size="10.5" text-anchor="middle" fill="#282828" font-weight="normal" font-style="normal" stroke="#282828" stroke-width="0.18">-</text>
<text x="774.50" y="422.10" font-size="10.5" text-anchor="middle" fill="#282828" font-weight="normal" font-style="normal" stroke="#282828" stroke-width="0.18">-</text>
<text x="125.15" y="414.55" font-size="10.0" text-anchor="middle" fill="#282828" font-weight="normal" font-style="normal" stroke="#282828" stroke-width="0.18">TV/R</text>
<text x="125.15" y="431.85" font-size="10.0" text-anchor="middle" fill="#282828" font-weight="normal" font-style="normal" stroke="#282828" stroke-width="0.18">SAT</text>
<text x="24.90" y="422.90" font-size="10.6" text-anchor="middle" fill="#282828" font-weight="normal" font-style="normal" stroke="#282828" stroke-width="0.18">5270</text>
<rect x="3.50" y="402.40" width="42.00" height="34.60" fill="none" stroke="#878787" stroke-width="1.3"/>
<rect x="77.50" y="402.40" width="28.30" height="17.70" fill="none" stroke="#878787" stroke-width="1.3"/>
<rect x="77.50" y="420.10" width="28.30" height="16.90" fill="none" stroke="#878787" stroke-width="1.3"/>
<rect x="105.80" y="402.40" width="38.70" height="17.70" fill="none" stroke="#878787" stroke-width="1.3"/>
<rect x="105.80" y="420.10" width="38.70" height="16.90" fill="none" stroke="#878787" stroke-width="1.3"/>
<rect x="543.50" y="402.40" width="107.00" height="34.60" fill="none" stroke="#878787" stroke-width="1.3"/>
<rect x="650.50" y="402.40" width="55.00" height="34.60" fill="none" stroke="#878787" stroke-width="1.3"/>
<rect x="705.50" y="402.40" width="46.00" height="34.60" fill="none" stroke="#878787" stroke-width="1.3"/>
<rect x="751.50" y="402.40" width="46.00" height="34.60" fill="none" stroke="#878787" stroke-width="1.3"/>
<rect x="45.50" y="402.40" width="32.00" height="34.60" fill="none" stroke="#878787" stroke-width="1.3"/>
<rect x="144.50" y="402.40" width="399.00" height="34.60" fill="none" stroke="#878787" stroke-width="1.3"/>
<circle cx="91.9" cy="411.25" r="6.2" fill="none" stroke="#1e1e1e" stroke-width="1.5"/>
<circle cx="91.9" cy="411.25" r="1.8" fill="#111"/>
<circle cx="91.9" cy="428.55" r="6.2" fill="none" stroke="#1e1e1e" stroke-width="1.5"/>
<circle cx="91.9" cy="428.55" r="1.7" fill="none" stroke="#5f5f5f" stroke-width="1.0"/>
<rect x="333.50" y="402.90" width="21.00" height="16.70" fill="#ffffff" />
<text x="344.00" y="414.65" font-size="10.5" text-anchor="middle" fill="#282828" font-weight="normal" font-style="normal" stroke="#282828" stroke-width="0.18">&lt;5*</text>
<rect x="333.50" y="420.60" width="21.00" height="15.90" fill="#ffffff" />
<text x="344.00" y="431.95" font-size="10.5" text-anchor="middle" fill="#282828" font-weight="normal" font-style="normal" stroke="#282828" stroke-width="0.18">&lt;5*</text>
<line x1="333.50" y1="420.10" x2="354.50" y2="420.10" stroke="#878787" stroke-width="1.0"/>
<line x1="61.8" y1="402.4" x2="61.8" y2="411.80" stroke="#1e1e1e" stroke-width="1.5"/>
<circle cx="61.8" cy="419.0" r="7.2" fill="#fff" stroke="#1e1e1e" stroke-width="1.6"/>
<line x1="61.8" y1="426.20" x2="61.8" y2="432.5" stroke="#1e1e1e" stroke-width="1.5"/>
<line x1="56.60" y1="432.5" x2="67.00" y2="432.5" stroke="#1e1e1e" stroke-width="1.8"/>
<circle cx="58.90" cy="419.00" r="1.9" fill="#7d7d7d"/>
<circle cx="64.50" cy="419.00" r="1.5" fill="#b8b8b8" stroke="#7d7d7d" stroke-width="0.9"/>
<rect x="3.00" y="437.00" width="795.00" height="17.00" fill="#f7a11d" />
<text x="402.70" y="449.30" font-size="10.85" text-anchor="middle" fill="#3d230a" font-weight="bold" font-style="normal" textLength="102" lengthAdjust="spacingAndGlyphs" stroke="#3d230a" stroke-width="0.35">Splitters - 2 outputs</text>
<rect x="145.00" y="454.50" width="45.00" height="16.30" fill="#fce5da" />
<text x="167.50" y="465.75" font-size="10.5" text-anchor="middle" fill="#282828" font-weight="normal" font-style="normal" stroke="#282828" stroke-width="0.18">0.3</text>
<rect x="191.00" y="454.50" width="352.00" height="16.30" fill="#fce5da" />
<text x="367.00" y="465.75" font-size="10.5" text-anchor="middle" fill="#282828" font-weight="normal" font-style="normal" stroke="#282828" stroke-width="0.18">0.6</text>
<text x="597.00" y="465.05" font-size="10.5" text-anchor="middle" fill="#282828" font-weight="normal" font-style="normal" stroke="#282828" stroke-width="0.18">-</text>
<text x="344.00" y="482.15" font-size="10.5" text-anchor="middle" fill="#282828" font-weight="normal" font-style="normal" stroke="#282828" stroke-width="0.18">-</text>
<rect x="544.00" y="471.80" width="106.00" height="15.90" fill="#deebcf" />
<text x="597.00" y="482.85" font-size="10.5" text-anchor="middle" fill="#282828" font-weight="normal" font-style="normal" textLength="43.9" lengthAdjust="spacingAndGlyphs" stroke="#282828" stroke-width="0.18">1.5 ± 0.2</text>
<text x="657.84" y="474.20" font-size="10.5" text-anchor="start" fill="#282828" font-weight="normal" font-style="normal" textLength="17.68" lengthAdjust="spacingAndGlyphs" stroke="#282828" stroke-width="0.18">SAT</text>
<path d="M676.71 470.80H686.51" fill="none" stroke="#2a2a2a" stroke-width="0.95"/>
<path d="M684.51 468.40L687.51 470.80L684.51 473.20" fill="none" stroke="#2a2a2a" stroke-width="1.1" stroke-linejoin="miter"/>
<text x="688.71" y="474.20" font-size="10.5" text-anchor="start" fill="#282828" font-weight="normal" font-style="normal" textLength="9.45" lengthAdjust="spacingAndGlyphs" stroke="#282828" stroke-width="0.18">IN</text>
<text x="728.50" y="473.50" font-size="10.5" text-anchor="middle" fill="#282828" font-weight="normal" font-style="normal" stroke="#282828" stroke-width="0.18">-</text>
<text x="774.50" y="473.50" font-size="10.5" text-anchor="middle" fill="#282828" font-weight="normal" font-style="normal" stroke="#282828" stroke-width="0.18">-</text>
<text x="125.15" y="465.95" font-size="10.0" text-anchor="middle" fill="#282828" font-weight="normal" font-style="normal" stroke="#282828" stroke-width="0.18">TV/R</text>
<text x="125.15" y="483.05" font-size="10.0" text-anchor="middle" fill="#282828" font-weight="normal" font-style="normal" stroke="#282828" stroke-width="0.18">SAT</text>
<text x="24.90" y="474.30" font-size="10.6" text-anchor="middle" fill="#282828" font-weight="normal" font-style="normal" stroke="#282828" stroke-width="0.18">5226</text>
<rect x="3.50" y="454.00" width="42.00" height="34.20" fill="none" stroke="#878787" stroke-width="1.3"/>
<rect x="77.50" y="454.00" width="28.30" height="17.30" fill="none" stroke="#878787" stroke-width="1.3"/>
<rect x="77.50" y="471.30" width="28.30" height="16.90" fill="none" stroke="#878787" stroke-width="1.3"/>
<rect x="105.80" y="454.00" width="38.70" height="17.30" fill="none" stroke="#878787" stroke-width="1.3"/>
<rect x="105.80" y="471.30" width="38.70" height="16.90" fill="none" stroke="#878787" stroke-width="1.3"/>
<rect x="144.50" y="454.00" width="46.00" height="17.30" fill="none" stroke="#878787" stroke-width="1.3"/>
<rect x="190.50" y="454.00" width="353.00" height="17.30" fill="none" stroke="#878787" stroke-width="1.3"/>
<rect x="543.50" y="454.00" width="107.00" height="17.30" fill="none" stroke="#878787" stroke-width="1.3"/>
<rect x="144.50" y="471.30" width="399.00" height="16.90" fill="none" stroke="#878787" stroke-width="1.3"/>
<rect x="543.50" y="471.30" width="107.00" height="16.90" fill="none" stroke="#878787" stroke-width="1.3"/>
<rect x="650.50" y="454.00" width="55.00" height="34.20" fill="none" stroke="#878787" stroke-width="1.3"/>
<rect x="705.50" y="454.00" width="46.00" height="34.20" fill="none" stroke="#878787" stroke-width="1.3"/>
<rect x="751.50" y="454.00" width="46.00" height="34.20" fill="none" stroke="#878787" stroke-width="1.3"/>
<rect x="45.50" y="454.00" width="32.00" height="34.20" fill="none" stroke="#878787" stroke-width="1.3"/>
<circle cx="91.9" cy="462.65" r="6.2" fill="none" stroke="#1e1e1e" stroke-width="1.5"/>
<circle cx="91.9" cy="462.65" r="1.8" fill="#111"/>
<circle cx="91.9" cy="479.75" r="6.2" fill="none" stroke="#1e1e1e" stroke-width="1.5"/>
<circle cx="91.9" cy="479.75" r="1.7" fill="none" stroke="#5f5f5f" stroke-width="1.0"/>
<line x1="61.8" y1="454.0" x2="61.8" y2="462.80" stroke="#1e1e1e" stroke-width="1.5"/>
<circle cx="61.8" cy="470.0" r="7.2" fill="#fff" stroke="#1e1e1e" stroke-width="1.6"/>
<line x1="61.8" y1="477.20" x2="61.8" y2="483.8" stroke="#1e1e1e" stroke-width="1.5"/>
<line x1="56.60" y1="483.8" x2="67.00" y2="483.8" stroke="#1e1e1e" stroke-width="1.8"/>
<circle cx="58.90" cy="470.00" r="1.9" fill="#7d7d7d"/>
<circle cx="64.50" cy="470.00" r="1.5" fill="#b8b8b8" stroke="#7d7d7d" stroke-width="0.9"/>
<rect x="3.00" y="488.20" width="795.00" height="16.90" fill="#f7a11d" />
<text x="402.70" y="500.45" font-size="10.85" text-anchor="middle" fill="#3d230a" font-weight="bold" font-style="normal" textLength="78" lengthAdjust="spacingAndGlyphs" stroke="#3d230a" stroke-width="0.35">Triple triplexed</text>
<rect x="145.00" y="505.60" width="45.00" height="16.40" fill="#fce5da" />
<text x="167.50" y="516.90" font-size="10.5" text-anchor="middle" fill="#282828" font-weight="normal" font-style="normal" stroke="#282828" stroke-width="0.18">&lt;8</text>
<rect x="191.00" y="505.60" width="352.00" height="16.40" fill="#fce5da" />
<text x="367.00" y="516.90" font-size="10.5" text-anchor="middle" fill="#282828" font-weight="normal" font-style="normal" stroke="#282828" stroke-width="0.18">4.5</text>
<rect x="145.00" y="523.00" width="45.00" height="16.00" fill="#c4e8fa" />
<text x="167.50" y="534.10" font-size="10.5" text-anchor="middle" fill="#282828" font-weight="normal" font-style="normal" stroke="#282828" stroke-width="0.18">&lt;8</text>
<rect x="191.00" y="523.00" width="352.00" height="16.00" fill="#c4e8fa" />
<text x="367.00" y="534.10" font-size="10.5" text-anchor="middle" fill="#282828" font-weight="normal" font-style="normal" stroke="#282828" stroke-width="0.18">4.5</text>
<text x="344.00" y="550.30" font-size="10.5" text-anchor="middle" fill="#282828" font-weight="normal" font-style="normal" stroke="#282828" stroke-width="0.18">-</text>
<text x="597.00" y="524.70" font-size="10.5" text-anchor="middle" fill="#282828" font-weight="normal" font-style="normal" stroke="#282828" stroke-width="0.18">-</text>
<rect x="544.00" y="540.00" width="106.00" height="15.80" fill="#deebcf" />
<text x="597.00" y="551.00" font-size="10.5" text-anchor="middle" fill="#282828" font-weight="normal" font-style="normal" textLength="43.9" lengthAdjust="spacingAndGlyphs" stroke="#282828" stroke-width="0.18">1.5 ± 0.2</text>
<text x="678.00" y="524.70" font-size="10.5" text-anchor="middle" fill="#282828" font-weight="normal" font-style="normal" stroke="#282828" stroke-width="0.18">-</text>
<text x="657.84" y="551.00" font-size="10.5" text-anchor="start" fill="#282828" font-weight="normal" font-style="normal" textLength="17.68" lengthAdjust="spacingAndGlyphs" stroke="#282828" stroke-width="0.18">SAT</text>
<path d="M676.71 547.60H686.51" fill="none" stroke="#2a2a2a" stroke-width="0.95"/>
<path d="M684.51 545.20L687.51 547.60L684.51 550.00" fill="none" stroke="#2a2a2a" stroke-width="1.1" stroke-linejoin="miter"/>
<text x="688.71" y="551.00" font-size="10.5" text-anchor="start" fill="#282828" font-weight="normal" font-style="normal" textLength="9.45" lengthAdjust="spacingAndGlyphs" stroke="#282828" stroke-width="0.18">IN</text>
<text x="728.50" y="533.10" font-size="10.5" text-anchor="middle" fill="#282828" font-weight="normal" font-style="normal" stroke="#282828" stroke-width="0.18">-</text>
<text x="774.50" y="533.10" font-size="10.5" text-anchor="middle" fill="#282828" font-weight="normal" font-style="normal" stroke="#282828" stroke-width="0.18">-</text>
<text x="125.15" y="517.10" font-size="10.0" text-anchor="middle" fill="#282828" font-weight="normal" font-style="normal" stroke="#282828" stroke-width="0.18">TV</text>
<text x="125.15" y="534.30" font-size="10.0" text-anchor="middle" fill="#282828" font-weight="normal" font-style="normal" stroke="#282828" stroke-width="0.18">R</text>
<text x="125.15" y="551.20" font-size="10.0" text-anchor="middle" fill="#282828" font-weight="normal" font-style="normal" stroke="#282828" stroke-width="0.18">SAT</text>
<text x="7.00" y="533.90" font-size="10.6" text-anchor="start" fill="#282828" font-weight="normal" font-style="normal" stroke="#282828" stroke-width="0.18">5246</text>
<rect x="3.50" y="505.10" width="42.00" height="51.20" fill="none" stroke="#878787" stroke-width="1.3"/>
<rect x="77.50" y="505.10" width="28.30" height="17.40" fill="none" stroke="#878787" stroke-width="1.3"/>
<rect x="77.50" y="522.50" width="28.30" height="17.00" fill="none" stroke="#878787" stroke-width="1.3"/>
<rect x="77.50" y="539.50" width="28.30" height="16.80" fill="none" stroke="#878787" stroke-width="1.3"/>
<rect x="105.80" y="505.10" width="38.70" height="17.40" fill="none" stroke="#878787" stroke-width="1.3"/>
<rect x="105.80" y="522.50" width="38.70" height="17.00" fill="none" stroke="#878787" stroke-width="1.3"/>
<rect x="105.80" y="539.50" width="38.70" height="16.80" fill="none" stroke="#878787" stroke-width="1.3"/>
<rect x="144.50" y="505.10" width="46.00" height="17.40" fill="none" stroke="#878787" stroke-width="1.3"/>
<rect x="190.50" y="505.10" width="353.00" height="17.40" fill="none" stroke="#878787" stroke-width="1.3"/>
<rect x="144.50" y="522.50" width="46.00" height="17.00" fill="none" stroke="#878787" stroke-width="1.3"/>
<rect x="190.50" y="522.50" width="353.00" height="17.00" fill="none" stroke="#878787" stroke-width="1.3"/>
<rect x="144.50" y="539.50" width="399.00" height="16.80" fill="none" stroke="#878787" stroke-width="1.3"/>
<rect x="543.50" y="505.10" width="107.00" height="34.40" fill="none" stroke="#878787" stroke-width="1.3"/>
<rect x="543.50" y="539.50" width="107.00" height="16.80" fill="none" stroke="#878787" stroke-width="1.3"/>
<rect x="650.50" y="505.10" width="55.00" height="34.40" fill="none" stroke="#878787" stroke-width="1.3"/>
<rect x="650.50" y="539.50" width="55.00" height="16.80" fill="none" stroke="#878787" stroke-width="1.3"/>
<rect x="705.50" y="505.10" width="46.00" height="51.20" fill="none" stroke="#878787" stroke-width="1.3"/>
<rect x="751.50" y="505.10" width="46.00" height="51.20" fill="none" stroke="#878787" stroke-width="1.3"/>
<rect x="45.50" y="505.10" width="32.00" height="51.20" fill="none" stroke="#878787" stroke-width="1.3"/>
<circle cx="91.9" cy="513.80" r="6.2" fill="none" stroke="#1e1e1e" stroke-width="1.5"/>
<circle cx="91.9" cy="513.80" r="1.8" fill="#111"/>
<circle cx="91.9" cy="531.00" r="6.2" fill="none" stroke="#1e1e1e" stroke-width="1.5"/>
<circle cx="91.9" cy="531.00" r="1.7" fill="none" stroke="#5f5f5f" stroke-width="1.0"/>
<circle cx="91.9" cy="547.90" r="6.2" fill="none" stroke="#1e1e1e" stroke-width="1.5"/>
<path d="M90.75 544.40 L93.05 544.40 L93.05 546.75 L95.40 546.75 L95.40 549.05 L93.05 549.05 L93.05 551.40 L90.75 551.40 L90.75 549.05 L88.40 549.05 L88.40 546.75 L90.75 546.75Z" fill="#cfcfcf" stroke="#2a2a2a" stroke-width="0.95"/>
<line x1="61.2" y1="513.0" x2="61.2" y2="525.40" stroke="#1e1e1e" stroke-width="1.5"/>
<circle cx="61.2" cy="532.6" r="7.2" fill="#fff" stroke="#1e1e1e" stroke-width="1.6"/>
<line x1="61.2" y1="539.80" x2="61.2" y2="545.8" stroke="#1e1e1e" stroke-width="1.5"/>
<line x1="56.00" y1="545.8" x2="66.40" y2="545.8" stroke="#1e1e1e" stroke-width="1.8"/>
<circle cx="58.30" cy="532.60" r="1.9" fill="#7d7d7d"/>
<circle cx="63.90" cy="532.60" r="1.5" fill="#b8b8b8" stroke="#7d7d7d" stroke-width="0.9"/>
<rect x="3.5" y="564.8" width="794" height="18.90" fill="#fff" stroke="#949494" stroke-width="1.4"/>
<line x1="37.50" y1="564.80" x2="37.50" y2="583.70" stroke="#949494" stroke-width="1.0"/>
<line x1="148.50" y1="564.80" x2="148.50" y2="583.70" stroke="#949494" stroke-width="1.0"/>
<line x1="181.50" y1="564.80" x2="181.50" y2="583.70" stroke="#949494" stroke-width="1.0"/>
<line x1="278.50" y1="564.80" x2="278.50" y2="583.70" stroke="#949494" stroke-width="1.0"/>
<line x1="317.50" y1="564.80" x2="317.50" y2="583.70" stroke="#949494" stroke-width="1.0"/>
<line x1="490.50" y1="564.80" x2="490.50" y2="583.70" stroke="#949494" stroke-width="1.0"/>
<line x1="524.50" y1="564.80" x2="524.50" y2="583.70" stroke="#949494" stroke-width="1.0"/>
<line x1="680.50" y1="564.80" x2="680.50" y2="583.70" stroke="#949494" stroke-width="1.0"/>
<line x1="715.50" y1="564.80" x2="715.50" y2="583.70" stroke="#949494" stroke-width="1.0"/>
<text x="44.40" y="578.05" font-size="10.9" text-anchor="start" fill="#282828" font-weight="normal" font-style="normal" textLength="49.4" lengthAdjust="spacingAndGlyphs" stroke="#282828" stroke-width="0.18">End outlet</text>
<text x="188.00" y="578.05" font-size="10.9" text-anchor="start" fill="#282828" font-weight="normal" font-style="normal" textLength="73" lengthAdjust="spacingAndGlyphs" stroke="#282828" stroke-width="0.18">Through outlet</text>
<text x="323.80" y="578.05" font-size="10.9" text-anchor="start" fill="#282828" font-weight="normal" font-style="normal" textLength="105.75" lengthAdjust="spacingAndGlyphs" stroke="#282828" stroke-width="0.18">Female IEC connector</text>
<text x="530.80" y="578.05" font-size="10.9" text-anchor="start" fill="#282828" font-weight="normal" font-style="normal" textLength="93.75" lengthAdjust="spacingAndGlyphs" stroke="#282828" stroke-width="0.18">Male IEC connector</text>
<text x="722.00" y="578.05" font-size="10.9" text-anchor="start" fill="#282828" font-weight="normal" font-style="normal" textLength="43" lengthAdjust="spacingAndGlyphs" stroke="#282828" stroke-width="0.18">F Female</text>
<circle cx="19.6" cy="570.8" r="5.4" fill="#fff" stroke="#1e1e1e" stroke-width="1.3"/>
<circle cx="17.6" cy="570.8" r="1.45" fill="#555"/><circle cx="21.6" cy="570.8" r="1.45" fill="#555"/>
<line x1="19.6" y1="576.1999999999999" x2="19.6" y2="580.9" stroke="#1e1e1e" stroke-width="1.3"/>
<line x1="16.200000000000003" y1="580.9" x2="23.0" y2="580.9" stroke="#1e1e1e" stroke-width="1.7"/>
<line x1="162.65" y1="564.8" x2="162.65" y2="583.7" stroke="#1e1e1e" stroke-width="1.3"/>
<circle cx="162.65" cy="574.4" r="5.6" fill="#fff" stroke="#1e1e1e" stroke-width="1.3"/>
<circle cx="160.55" cy="574.4" r="1.45" fill="#555"/><circle cx="164.75" cy="574.4" r="1.45" fill="#555"/>
<circle cx="295.9" cy="574.40" r="7.0" fill="none" stroke="#1e1e1e" stroke-width="1.5"/>
<circle cx="295.9" cy="574.40" r="1.7" fill="none" stroke="#5f5f5f" stroke-width="1.0"/>
<circle cx="504.9" cy="574.40" r="7.0" fill="none" stroke="#1e1e1e" stroke-width="1.5"/>
<circle cx="504.9" cy="574.40" r="1.8" fill="#111"/>
<circle cx="695.8" cy="574.30" r="7.0" fill="none" stroke="#1e1e1e" stroke-width="1.5"/>
<path d="M694.65 570.80 L696.95 570.80 L696.95 573.15 L699.30 573.15 L699.30 575.45 L696.95 575.45 L696.95 577.80 L694.65 577.80 L694.65 575.45 L692.30 575.45 L692.30 573.15 L694.65 573.15Z" fill="#cfcfcf" stroke="#2a2a2a" stroke-width="0.95"/>
<rect x="3.6" y="594" width="34.00" height="17.2" fill="#fcd9cf" stroke="#efc9bf" stroke-width="0.8"/>
<rect x="136.2" y="594" width="34.40" height="17.2" fill="#c5e6f8" stroke="#b5d8ea" stroke-width="0.8"/>
<rect x="268.2" y="594" width="34.40" height="17.2" fill="#dcebcd" stroke="#cbdcbd" stroke-width="0.8"/>
<text x="48.60" y="605.00" font-size="9.3" text-anchor="start" fill="#2e2e2e" font-weight="normal" font-style="italic" textLength="44" lengthAdjust="spacingAndGlyphs" stroke="#2e2e2e" stroke-width="0.15">TV response</text>
<text x="180.80" y="605.00" font-size="9.3" text-anchor="start" fill="#2e2e2e" font-weight="normal" font-style="italic" textLength="40.5" lengthAdjust="spacingAndGlyphs" stroke="#2e2e2e" stroke-width="0.15">R response</text>
<text x="313.80" y="605.00" font-size="9.3" text-anchor="start" fill="#2e2e2e" font-weight="normal" font-style="italic" textLength="47.2" lengthAdjust="spacingAndGlyphs" stroke="#2e2e2e" stroke-width="0.15">SAT response</text>
<text x="653.80" y="604.30" font-size="9.0" text-anchor="start" fill="#2e2e2e" font-weight="normal" font-style="italic" textLength="126.7" lengthAdjust="spacingAndGlyphs" stroke="#2e2e2e" stroke-width="0.15">* Depending on the output loaded</text>
</svg>
</body></html>
